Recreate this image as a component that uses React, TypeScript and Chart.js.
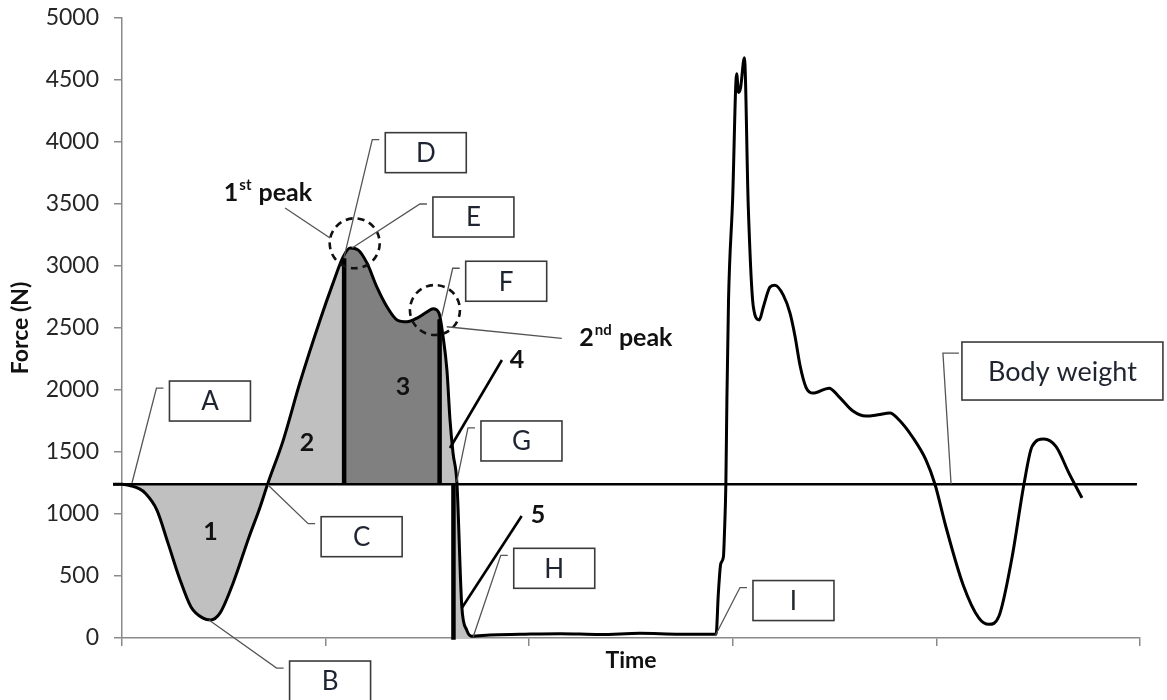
import React, { useEffect, useRef } from "react";
import { Chart, registerables } from "chart.js";

Chart.register(...registerables);

// ---------------- data ----------------
const BODY_WEIGHT = 1240;
const BODY_WEIGHT_SPAN = [-4.4, 498.5];

const TIME = [
  -4.4, 0, 4.9, 8.3, 11.3, 17.2, 22.6, 28.5, 33.9, 39.8, 43.5, 48.1, 54.5, 62.4, 67.8, 71.7, 79.1, 87.4,
  97.3, 103.6, 108.5, 112.0, 115.9, 120.3, 125.2, 130.2, 135.1, 140.0, 144.9, 149.8, 152.8, 155.7, 157.7,
  159.6, 161.1, 162.6, 164.5, 166.9, 169.3, 171.7, 180.7, 195.5, 215.1, 234.8, 254.4, 274.1, 291.8, 292.9,
  294.1, 295.4, 295.9, 296.6, 297.1, 297.9, 299.9, 301.9, 302.8, 303.8, 305.7, 307.6, 310.1, 313.0, 315.0,
  318.3, 320.7, 324.8, 328.1, 330.6, 333.0, 336.0, 339.4, 347.3, 352.2, 359.0, 365.4, 371.3, 377.2, 381.6,
  388.5, 394.9, 399.3, 404.7, 413.1, 420.9, 425.8, 430.7, 437.1, 443.0, 447.0, 452.8, 458.7, 465.1, 471.5,
];

const FORCE = [
  1240, 1240, 1225, 1205, 1170, 1030, 765, 470, 250, 160, 145, 200, 440, 815, 1055, 1250, 1590, 2060,
  2565, 2860, 3070, 3145, 3130, 3025, 2830, 2670, 2565, 2550, 2580, 2630, 2655, 2620, 2430,
  2160, 1760, 1490, 1250, 253, 65, 15, 25, 30, 35, 28, 38, 30, 30, 360,
  600, 655, 845, 1250, 1920, 2725, 3530, 4550, 4400, 4435, 4680, 3480, 2670, 2565, 2670,
  2830, 2845, 2765, 2620, 2430, 2200, 2020, 1975, 2015, 1945, 1830, 1790, 1800, 1815, 1760,
  1615, 1435, 1240, 895, 430, 160, 110, 175, 645, 1240, 1545, 1605, 1545, 1330, 1130,
];

// impulse phase dividers (time)
const DIVIDERS = [109.1, 156.0, 162.8];
// shaded regions: [start, end, shade, fill target]
const REGIONS: [number, number, string, string][] = [
  [0, 109.1, "light", "bw"],
  [109.1, 156.0, "dark", "bw"],
  [156.0, 164.5, "light", "bw"],
  [162.8, 171.7, "light", "zero"],
];

const X_MIN = 0;
const X_MAX = 500;
const X_STEP = 100;
const Y_MIN = 0;
const Y_MAX = 5000;
const Y_STEP = 500;

// callouts: label, box centre [time, force], leader target [time, force]
const CALLOUTS = [
  { label: "A", box: [43.2, 1911], target: [4.9, 1250] },
  { label: "B", box: [102.2, -347], target: [42.7, 145] },
  { label: "C", box: [117.7, 817], target: [71.7, 1234] },
  { label: "D", box: [149.2, 3914], target: [109.0, 3065] },
  { label: "E", box: [172.6, 3395], target: [113.0, 3145] },
  { label: "F", box: [188.7, 2877], target: [157.0, 2591] },
  { label: "G", box: [196.2, 1589], target: [164.4, 1260] },
  { label: "H", box: [212.3, 562], target: [172.5, 10] },
  { label: "I", box: [329.8, 302], target: [291.3, 16] },
  { label: "Body weight", box: [461.9, 2153], target: [407.2, 1242], wide: true },
];

const REGION_NUMBERS = [
  { label: "1", at: [43.5, 857] },
  { label: "2", at: [90.9, 1573] },
  { label: "3", at: [138.0, 2024] },
  { label: "4", at: [194.0, 2242], leader: [[186.6, 2242], [161.1, 1532]] },
  { label: "5", at: [204.3, 992], leader: [[196.3, 984], [166.9, 242]] },
];

const PEAKS = [
  { num: "1", sup: "st", at: [71.7, 3589], circle: [114.3, 3183], leader: [[80.1, 3468], [102.2, 3226]] },
  { num: "2", sup: "nd", at: [247.5, 2419], circle: [153.7, 2645], leader: [[216.0, 2417], [159.5, 2510]] },
];

// ---------------- helpers ----------------
const curve = TIME.map((t, i) => ({ x: t, y: FORCE[i] }));

function forceAt(t: number) {
  for (let i = 1; i < TIME.length; i++) {
    if (t <= TIME[i]) {
      const a = TIME[i - 1], b = TIME[i];
      const r = (t - a) / (b - a);
      return FORCE[i - 1] + r * (FORCE[i] - FORCE[i - 1]);
    }
  }
  return FORCE[FORCE.length - 1];
}

function segment(a: number, b: number) {
  const pts = [{ x: a, y: forceAt(a) }];
  curve.forEach((p) => {
    if (p.x > a && p.x < b) pts.push(p);
  });
  pts.push({ x: b, y: forceAt(b) });
  return pts;
}

const LIGHT = "#c0c0c0";
const DARK = "#808080";
const FONT = "Lato, 'Open Sans', sans-serif";

const annotationPlugin = {
  id: "forceAnnotations",
  afterDatasetsDraw(chart: any) {
    const { ctx } = chart;
    const xs = chart.scales.x;
    const ys = chart.scales.y;
    const X = (t: number) => xs.getPixelForValue(t);
    const Y = (f: number) => ys.getPixelForValue(f);
    ctx.save();
    ctx.lineCap = "butt";

    // dashed peak circles
    PEAKS.forEach((p) => {
      ctx.beginPath();
      ctx.setLineDash([7, 5]);
      ctx.strokeStyle = "#111";
      ctx.lineWidth = 2.6;
      ctx.arc(X(p.circle[0]), Y(p.circle[1]), 25, 0, Math.PI * 2);
      ctx.stroke();
    });
    ctx.setLineDash([]);

    // peak labels
    PEAKS.forEach((p) => {
      ctx.strokeStyle = "#555";
      ctx.lineWidth = 1.3;
      ctx.beginPath();
      ctx.moveTo(X(p.leader[0][0]), Y(p.leader[0][1]));
      ctx.lineTo(X(p.leader[1][0]), Y(p.leader[1][1]));
      ctx.stroke();
      const big = `bold 25px ${FONT}`;
      const small = `bold 15px ${FONT}`;
      ctx.font = big;
      const w1 = ctx.measureText(p.num).width;
      const w3 = ctx.measureText(" peak").width;
      ctx.font = small;
      const w2 = ctx.measureText(p.sup).width;
      const total = w1 + w2 + w3 + 2;
      let x = X(p.at[0]) - total / 2;
      const y = Y(p.at[1]);
      ctx.fillStyle = "#111";
      ctx.textAlign = "left";
      ctx.textBaseline = "middle";
      ctx.font = big;
      ctx.fillText(p.num, x, y);
      x += w1 + 1;
      ctx.font = small;
      ctx.fillText(p.sup, x, y - 8);
      x += w2 + 1;
      ctx.font = big;
      ctx.fillText(" peak", x, y);
    });

    // region numbers
    REGION_NUMBERS.forEach((n) => {
      if (n.leader) {
        ctx.strokeStyle = "#000";
        ctx.lineWidth = 2.6;
        ctx.beginPath();
        ctx.moveTo(X(n.leader[0][0]), Y(n.leader[0][1]));
        ctx.lineTo(X(n.leader[1][0]), Y(n.leader[1][1]));
        ctx.stroke();
      }
      ctx.fillStyle = "#111";
      ctx.font = `bold 25px ${FONT}`;
      ctx.textAlign = "center";
      ctx.textBaseline = "middle";
      ctx.fillText(n.label, X(n.at[0]), Y(n.at[1]));
    });

    // callout boxes
    CALLOUTS.forEach((c: any) => {
      const w = c.wide ? 201 : 81;
      const h = c.wide ? 58 : 40;
      const cx = X(c.box[0]);
      const cy = Y(c.box[1]);
      const left = cx - w / 2;
      const top = cy - h / 2;
      const ly = top + (c.wide ? 11 : 7);
      const elbowL = c.wide ? 19 : 13;
      const elbowR = c.wide ? 3 : 6;
      ctx.strokeStyle = "#555";
      ctx.lineWidth = 1.3;
      ctx.beginPath();
      ctx.moveTo(left - elbowR, ly);
      ctx.lineTo(left - elbowL, ly);
      ctx.lineTo(X(c.target[0]), Y(c.target[1]));
      ctx.stroke();
      ctx.fillStyle = "#fff";
      ctx.fillRect(left, top, w, h);
      ctx.strokeStyle = "#3a3a3a";
      ctx.lineWidth = 1.6;
      ctx.strokeRect(left, top, w, h);
      ctx.fillStyle = "#1e2430";
      ctx.font = c.wide ? `27px ${FONT}` : `26px ${FONT}`;
      ctx.textAlign = "center";
      ctx.textBaseline = "middle";
      ctx.fillText(c.label, cx, cy + 1);
    });
    ctx.restore();
  },
};

export default function App() {
  const ref = useRef<HTMLCanvasElement | null>(null);

  useEffect(() => {
    if (!ref.current) return;
    const regionSets = REGIONS.map(([a, b, shade, target]) => ({
      type: "line" as const,
      data: segment(a, b),
      borderColor: "transparent",
      borderWidth: 0,
      pointRadius: 0,
      backgroundColor: shade === "dark" ? DARK : LIGHT,
      fill: target === "bw" ? { value: BODY_WEIGHT } : "origin",
      cubicInterpolationMode: "monotone" as const,
      order: 10,
    }));
    const dividerSets = DIVIDERS.map((t, i) => ({
      type: "line" as const,
      data:
        i === DIVIDERS.length - 1
          ? [{ x: t, y: BODY_WEIGHT }, { x: t, y: -15 }]
          : [{ x: t, y: BODY_WEIGHT }, { x: t, y: forceAt(t) - 20 }],
      borderColor: "#000",
      borderWidth: 4.5,
      pointRadius: 0,
      fill: false,
      order: 0,
    }));

    const chart = new Chart(ref.current, {
      type: "line",
      data: {
        datasets: [
          ...regionSets,
          {
            data: [
              { x: BODY_WEIGHT_SPAN[0], y: BODY_WEIGHT },
              { x: BODY_WEIGHT_SPAN[1], y: BODY_WEIGHT },
            ],
            borderColor: "#000",
            borderWidth: 2.6,
            pointRadius: 0,
            fill: false,
            order: 5,
          },
          {
            data: curve,
            borderColor: "#000",
            borderWidth: 3,
            pointRadius: 0,
            fill: false,
            cubicInterpolationMode: "monotone",
            borderJoinStyle: "round",
            order: 1,
          },
          ...dividerSets,
        ] as any,
      },
      options: {
        animation: false,
        responsive: false,
        devicePixelRatio: 1,
        clip: false as any,
        layout: { padding: { top: 18, right: 27, left: 0, bottom: 0 } },
        plugins: { legend: { display: false }, tooltip: { enabled: false } },
        scales: {
          x: {
            type: "linear",
            min: X_MIN,
            max: X_MAX,
            ticks: { stepSize: X_STEP, display: false },
            grid: { drawOnChartArea: false, drawTicks: true, tickLength: 8, color: "#8a8a8a", lineWidth: 1.5 },
            border: { color: "#8a8a8a", width: 1.5 },
            title: {
              display: true,
              text: "Time",
              color: "#111",
              font: { family: FONT, size: 23, weight: "bold" },
              padding: { top: 0, bottom: 26 },
            },
            afterFit: (s: any) => {
              s.height = 62;
              s.paddingLeft = 0;
              s.paddingRight = 0;
            },
          },
          y: {
            type: "linear",
            min: Y_MIN,
            max: Y_MAX,
            ticks: {
              stepSize: Y_STEP,
              color: "#262626",
              font: { family: FONT, size: 23 },
              padding: 15,
              callback: (v: any) => String(v),
            },
            grid: { drawOnChartArea: false, drawTicks: true, tickLength: 8, color: "#8a8a8a", lineWidth: 1.5 },
            border: { color: "#8a8a8a", width: 1.5 },
            title: {
              display: true,
              text: "Force (N)",
              color: "#111",
              font: { family: FONT, size: 23, weight: "bold" },
              padding: { top: 7, bottom: 0 },
            },
            afterFit: (s: any) => {
              s.width = 122;
              s.paddingTop = 0;
              s.paddingBottom = 0;
            },
          },
        },
      },
      plugins: [annotationPlugin],
    });

    if ((document as any).fonts && (document as any).fonts.load) {
      (document as any).fonts.load(`23px Lato`).then(() => chart.update()).catch(() => {});
    }
    return () => chart.destroy();
  }, []);

  return (
    <div style={{ position: "fixed", left: 0, top: 0, width: 1167, height: 700, background: "#fff" }}>
      <canvas ref={ref} width={1167} height={700} style={{ display: "block" }} />
    </div>
  );
}
